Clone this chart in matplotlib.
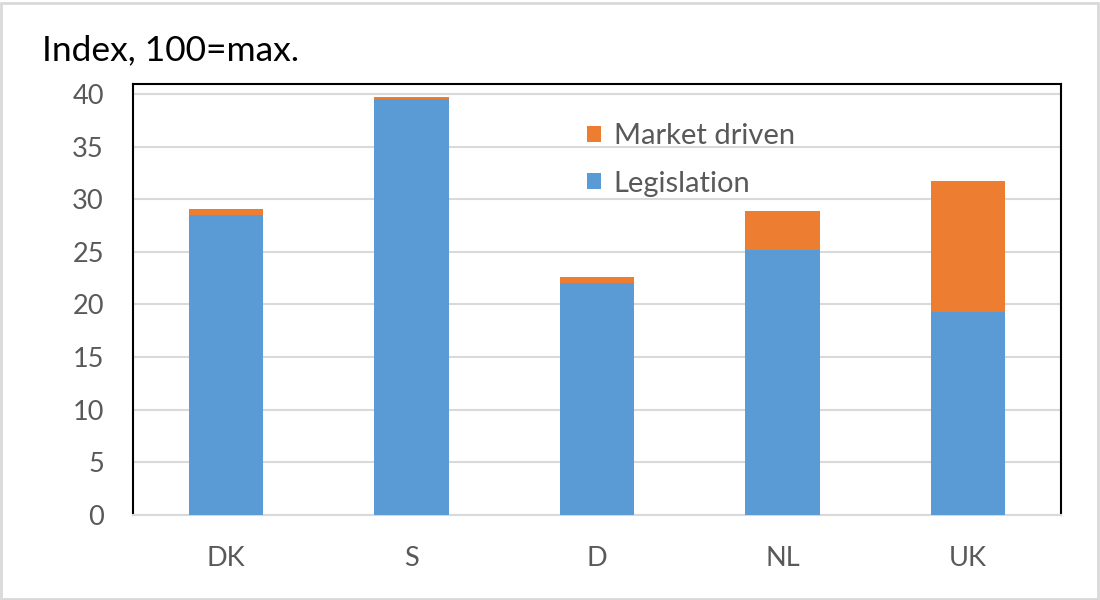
import matplotlib
matplotlib.use("Agg")
import matplotlib.pyplot as plt
from matplotlib.patches import Rectangle

categories = ["DK", "S", "D", "NL", "UK"]
legislation = [28.5, 39.5, 22.05, 25.2, 19.3]
market_driven = [0.6, 0.25, 0.55, 3.7, 12.45]
y_ticks = [0, 5, 10, 15, 20, 25, 30, 35, 40]

plt.rcParams['font.family'] = ['Lato', 'DejaVu Sans']

BLUE = "#5B9BD5"
ORANGE = "#ED7D31"
GRID = "#D9D9D9"
TXT = "#595959"

fig = plt.figure(figsize=(11, 6), dpi=100)
ax = fig.add_axes([133/1100, 85/600, (1061-133)/1100, (515-84)/600])

x = list(range(len(categories)))
b1 = ax.bar(x, legislation, width=0.4, color=BLUE, label="Legislation", zorder=3)
b2 = ax.bar(x, market_driven, width=0.4, bottom=legislation, color=ORANGE,
            label="Market driven", zorder=3)

ax.set_xlim(-0.5, 4.5)
ax.set_ylim(0, 40.95)
ax.set_yticks(y_ticks)
ax.set_xticks(x)
ax.set_xticklabels(categories)
ax.yaxis.grid(True, color=GRID, linewidth=1.5, zorder=0)
ax.set_axisbelow(True)
ax.tick_params(axis='both', length=0, labelsize=19.5, colors=TXT)
ax.tick_params(axis='y', pad=21)
ax.tick_params(axis='x', pad=22)

for s in ['left', 'top', 'right']:
    ax.spines[s].set_color('black')
    ax.spines[s].set_linewidth(1.5)
ax.spines['bottom'].set_color(GRID)
ax.spines['bottom'].set_linewidth(1.5)

leg = ax.legend(handles=[b2, b1], loc='upper left',
                bbox_to_anchor=((587-133)/928, (515-123)/431),
                frameon=False, fontsize=21, handlelength=0.47, handleheight=0.47,
                handletextpad=0.45, labelspacing=0.74, borderaxespad=0, borderpad=0,
                labelcolor=TXT)

fig.text(42/1100, 1 - 50/600, "Index, 100=max.", fontsize=25.5, color='black',
         ha='left', va='center')

fig.patches.append(Rectangle((1/1100, 1/600), 1097/1100, 596/600, transform=fig.transFigure,
                             fill=False, edgecolor=GRID, linewidth=2))

fig.savefig("out.png", dpi=100)
